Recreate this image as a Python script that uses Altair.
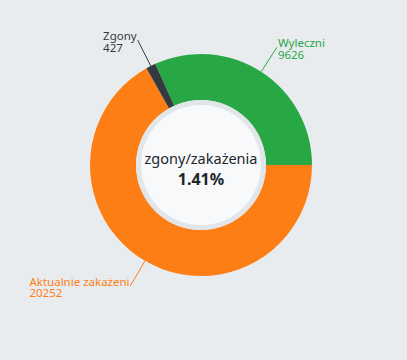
import math
import altair as alt
import pandas as pd

# ---- data ----
categories = ["Wyleczni", "Aktualnie zakażeni", "Zgony"]
values = [9626, 20252, 427]
colors = ["#28a745", "#fd7e14", "#343a40"]

total = sum(values)
center_title = "zgony/zakażenia"
center_value = f"{values[2] / total * 100:.2f}%"

# ---- layout constants ----
CX, CY = 201, 165
R_OUT, R_IN, R_WHITE = 111, 65, 60
R_LINE0, R_LINE1 = 111, 140
LBL_SIZE = 11.5
start = math.pi / 2 - 2 * math.pi * values[0] / total  # green slice ends at 3 o'clock

# approximate advance widths (per 2048 em) of Noto/Open Sans, used to left-align
# multi-line labels that sit on the left side of the donut
_ADV = {" ": 532, "A": 1296, "Z": 1169, "W": 1890, "a": 1139, "c": 975, "e": 1149,
        "g": 1122, "i": 518, "k": 1047, "l": 518, "n": 1257, "o": 1237, "t": 705,
        "u": 1257, "y": 1026, "z": 977, "ż": 977}


def text_width(s, size=LBL_SIZE):
    return sum(_ADV.get(ch, 1150) for ch in s) * size / 2048


df = pd.DataFrame({"cat": categories, "value": values, "idx": list(range(len(values)))})
df["namew"] = [text_width(c) for c in categories]

color_scale = alt.Scale(domain=categories, range=colors)
col = alt.Color("cat:N", scale=color_scale, legend=None)

base = (
    alt.Chart(df)
    .transform_window(cum="sum(value)", sort=[alt.SortField("idx")], frame=[None, 0])
    .transform_joinaggregate(total="sum(value)")
    .transform_calculate(
        t0=f"{start} + 2*PI*(datum.cum - datum.value)/datum.total",
        t1=f"{start} + 2*PI*datum.cum/datum.total",
    )
    .transform_calculate(mid="(datum.t0 + datum.t1)/2")
    .transform_calculate(
        sx=f"{CX} + {R_LINE0}*sin(datum.mid)",
        sy=f"{CY} - {R_LINE0}*cos(datum.mid)",
        ex=f"{CX} + {R_LINE1}*sin(datum.mid)",
        ey=f"{CY} - {R_LINE1}*cos(datum.mid)",
        label="datum.cat + '\\n' + datum.value",
        right="sin(datum.mid) > 0",
    )
    .transform_calculate(lx="datum.right ? datum.ex + 1 : datum.ex - 2 - datum.namew")
)

arcs = base.mark_arc(innerRadius=R_IN, outerRadius=R_OUT).encode(
    theta=alt.Theta("t0:Q", scale=None),
    theta2="t1:Q",
    color=col,
    x=alt.value(CX),
    y=alt.value(CY),
)

disc_df = pd.DataFrame({"k": [0]})
ring = alt.Chart(disc_df).mark_arc(
    outerRadius=R_IN, innerRadius=0, theta=0, theta2=2 * math.pi, color="#e3e6e9"
).encode(x=alt.value(CX), y=alt.value(CY))
disc = alt.Chart(disc_df).mark_arc(
    outerRadius=R_WHITE, innerRadius=0, theta=0, theta2=2 * math.pi, color="#f8f9fa"
).encode(x=alt.value(CX), y=alt.value(CY))

lines = base.mark_rule(strokeWidth=1).encode(
    x=alt.X("sx:Q", scale=None, axis=None),
    y=alt.Y("sy:Q", scale=None, axis=None),
    x2="ex:Q",
    y2="ey:Q",
    color=col,
)

labels = base.mark_text(
    font="Noto Sans", fontSize=LBL_SIZE, lineBreak="\n", lineHeight=11.5,
    baseline="alphabetic", align="left"
).encode(
    x=alt.X("lx:Q", scale=None, axis=None),
    y=alt.Y("ey:Q", scale=None, axis=None),
    text="label:N",
    color=col,
)

ctext_df = pd.DataFrame({"t": [center_title], "v": [center_value]})
ctitle = alt.Chart(ctext_df).mark_text(
    font="Noto Sans", fontSize=14.5, color="#212529", align="center", baseline="alphabetic"
).encode(text="t:N", x=alt.value(CX), y=alt.value(CY - 1))
cvalue = alt.Chart(ctext_df).mark_text(
    font="Noto Sans", fontSize=16, fontWeight="bold", color="#212529", align="center", baseline="alphabetic"
).encode(text="v:N", x=alt.value(CX), y=alt.value(CY + 20))

chart = (
    alt.layer(arcs, ring, disc, lines, labels, ctitle, cvalue)
    .properties(width=407, height=360, background="#e9ecef", padding=0,
                autosize=alt.AutoSizeParams(type="none"))
    .configure_view(stroke=None)
)

chart.save("out.html", embed_options={"renderer": "svg", "actions": False})
